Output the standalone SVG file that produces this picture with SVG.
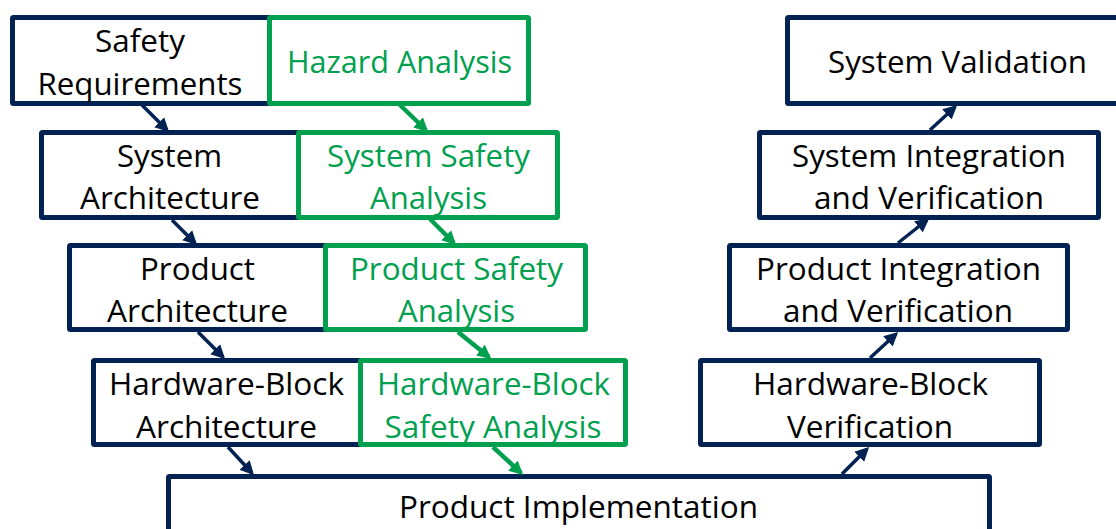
<svg xmlns="http://www.w3.org/2000/svg" width="1116" height="529" viewBox="0 0 1116 529">
  <style>
    .nb { fill: #ffffff; stroke: #012252; stroke-width: 5; }
    .gb { fill: #ffffff; stroke: #00A04F; stroke-width: 5; }
    .t { font-family: "Open Sans", "Noto Sans", "Liberation Sans", sans-serif; font-size: 31.5px; text-anchor: middle; }
    .tn { fill: #000000; }
    .tg { fill: #00A04F; }
    .cn { stroke: #012252; stroke-width: 3.5; fill: none; }
    .cg { stroke: #00A04F; stroke-width: 4.5; fill: none; }
  </style>
  <defs>
    <marker id="an" markerUnits="userSpaceOnUse" markerWidth="15" markerHeight="15" refX="11" refY="7.5" orient="auto">
      <path d="M0,0.5 L14,7.5 L0,14.5 z" fill="#012252"/>
    </marker>
    <marker id="ag" markerUnits="userSpaceOnUse" markerWidth="15" markerHeight="15" refX="11" refY="7.5" orient="auto">
      <path d="M0,0.5 L14,7.5 L0,14.5 z" fill="#00A04F"/>
    </marker>
  </defs>
  <rect width="1116" height="529" fill="#ffffff"/>

  <!-- Left column (navy) -->
  <g id="safety-requirements">
    <rect class="nb" x="12.5" y="17.5" width="257" height="86" rx="1"/>
    <text class="t tn" x="140" y="52" textLength="90" lengthAdjust="spacingAndGlyphs">Safety</text>
    <text class="t tn" x="140" y="95" textLength="205" lengthAdjust="spacingAndGlyphs">Requirements</text>
  </g>
  <g id="hazard-analysis">
    <rect class="gb" x="269.5" y="17.5" width="259" height="86" rx="1"/>
    <text class="t tg" x="399.5" y="73" textLength="225" lengthAdjust="spacingAndGlyphs">Hazard Analysis</text>
  </g>

  <g id="system-architecture">
    <rect class="nb" x="41.5" y="132.5" width="257" height="85" rx="1"/>
    <text class="t tn" x="169.5" y="167" textLength="105" lengthAdjust="spacingAndGlyphs">System</text>
    <text class="t tn" x="170" y="209" textLength="180" lengthAdjust="spacingAndGlyphs">Architecture</text>
  </g>
  <g id="system-safety-analysis">
    <rect class="gb" x="298.5" y="132.5" width="259" height="85" rx="1"/>
    <text class="t tg" x="428.5" y="167" textLength="203" lengthAdjust="spacingAndGlyphs">System Safety</text>
    <text class="t tg" x="428.5" y="209" textLength="117" lengthAdjust="spacingAndGlyphs">Analysis</text>
  </g>

  <g id="product-architecture">
    <rect class="nb" x="69.5" y="245.5" width="256" height="84" rx="1"/>
    <text class="t tn" x="197.5" y="280" textLength="115" lengthAdjust="spacingAndGlyphs">Product</text>
    <text class="t tn" x="197.5" y="322" textLength="181" lengthAdjust="spacingAndGlyphs">Architecture</text>
  </g>
  <g id="product-safety-analysis">
    <rect class="gb" x="325.5" y="245.5" width="260" height="84" rx="1"/>
    <text class="t tg" x="456.5" y="280" textLength="213" lengthAdjust="spacingAndGlyphs">Product Safety</text>
    <text class="t tg" x="456.5" y="322" textLength="117" lengthAdjust="spacingAndGlyphs">Analysis</text>
  </g>

  <g id="hardware-block-architecture">
    <rect class="nb" x="93.5" y="360.5" width="267" height="84" rx="1"/>
    <text class="t tn" x="226.5" y="395" textLength="235" lengthAdjust="spacingAndGlyphs">Hardware-Block</text>
    <text class="t tn" x="226.5" y="438" textLength="181" lengthAdjust="spacingAndGlyphs">Architecture</text>
  </g>
  <g id="hardware-block-safety-analysis">
    <rect class="gb" x="360.5" y="360.5" width="265" height="84" rx="1"/>
    <text class="t tg" x="493.5" y="395" textLength="233" lengthAdjust="spacingAndGlyphs">Hardware-Block</text>
    <text class="t tg" x="493" y="438" textLength="217" lengthAdjust="spacingAndGlyphs">Safety Analysis</text>
  </g>

  <!-- Bottom -->
  <g id="product-implementation">
    <rect class="nb" x="168.5" y="476.5" width="821" height="90" rx="1"/>
    <text class="t tn" x="578.5" y="518" textLength="359" lengthAdjust="spacingAndGlyphs">Product Implementation</text>
  </g>

  <!-- Right column (navy) -->
  <g id="hardware-block-verification">
    <rect class="nb" x="700.5" y="360.5" width="339" height="84" rx="1"/>
    <text class="t tn" x="870.5" y="395" textLength="235" lengthAdjust="spacingAndGlyphs">Hardware-Block</text>
    <text class="t tn" x="870" y="438" textLength="166" lengthAdjust="spacingAndGlyphs">Verification</text>
  </g>
  <g id="product-integration-verification">
    <rect class="nb" x="729.5" y="245.5" width="338" height="84" rx="1"/>
    <text class="t tn" x="898.5" y="280" textLength="285" lengthAdjust="spacingAndGlyphs">Product Integration</text>
    <text class="t tn" x="898" y="322" textLength="230" lengthAdjust="spacingAndGlyphs">and Verification</text>
  </g>
  <g id="system-integration-verification">
    <rect class="nb" x="759.5" y="132.5" width="339" height="85" rx="1"/>
    <text class="t tn" x="929" y="167" textLength="274" lengthAdjust="spacingAndGlyphs">System Integration</text>
    <text class="t tn" x="929" y="209" textLength="230" lengthAdjust="spacingAndGlyphs">and Verification</text>
  </g>
  <g id="system-validation">
    <rect class="nb" x="787.5" y="17.5" width="345" height="86" rx="1"/>
    <text class="t tn" x="957.5" y="73" textLength="259" lengthAdjust="spacingAndGlyphs">System Validation</text>
  </g>

  <!-- Connectors -->
  <g id="connectors">
    <line class="cn" x1="142" y1="105" x2="167" y2="130" marker-end="url(#an)"/>
    <line class="cn" x1="172" y1="220" x2="195" y2="243" marker-end="url(#an)"/>
    <line class="cn" x1="198" y1="332" x2="223" y2="357" marker-end="url(#an)"/>
    <line class="cn" x1="228" y1="447" x2="252" y2="473" marker-end="url(#an)"/>

    <line class="cg" x1="400" y1="105" x2="426" y2="130" marker-end="url(#ag)"/>
    <line class="cg" x1="430" y1="219" x2="454" y2="243" marker-end="url(#ag)"/>
    <line class="cg" x1="458" y1="332" x2="489" y2="357" marker-end="url(#ag)"/>
    <line class="cg" x1="493" y1="447" x2="521" y2="473" marker-end="url(#ag)"/>

    <line class="cn" x1="842" y1="474" x2="867" y2="449" marker-end="url(#an)"/>
    <line class="cn" x1="870" y1="358" x2="896" y2="334" marker-end="url(#an)"/>
    <line class="cn" x1="898" y1="243" x2="927" y2="220" marker-end="url(#an)"/>
    <line class="cn" x1="930" y1="130" x2="955" y2="107" marker-end="url(#an)"/>
  </g>
</svg>
